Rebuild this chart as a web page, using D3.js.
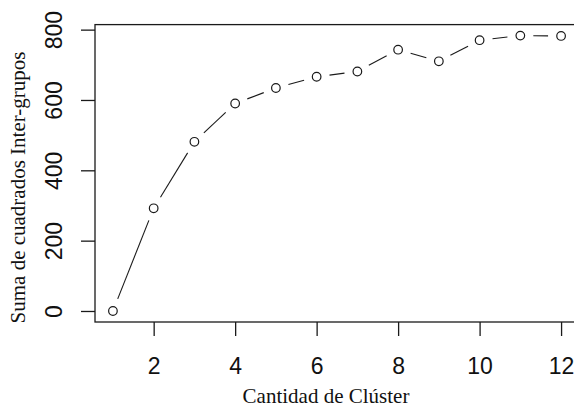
<!DOCTYPE html>
<html>
<head>
<meta charset="utf-8">
<script src="https://cdn.jsdelivr.net/npm/d3@7"></script>
<style>
  html, body { margin: 0; padding: 0; background: #fff; }
  svg { display: block; }
</style>
</head>
<body>
<svg id="chart" width="574" height="408"></svg>
<script>
const clusters = [1, 2, 3, 4, 5, 6, 7, 8, 9, 10, 11, 12];
const betweenSS = [0, 292, 481, 590, 634, 666, 681, 743, 710, 770, 783, 782];
const xTicks = [2, 4, 6, 8, 10, 12];
const yTicks = [0, 200, 400, 600, 800];
const xTitle = "Cantidad de Clúster";
const yTitle = "Suma de cuadrados Inter-grupos";

(function () {
const svg = d3.select("#chart");

// R-style 4% axis extension
const xExt = d3.extent(clusters), xPad = 0.04 * (xExt[1] - xExt[0]);
const yExt = d3.extent(betweenSS), yPad = 0.04 * (yExt[1] - yExt[0]);

const pLeft = 95, pRight = 579, pTop = 24.6, pBottom = 322;
const x = d3.scaleLinear().domain([xExt[0] - xPad, xExt[1] + xPad]).range([pLeft, pRight]);
const y = d3.scaleLinear().domain([yExt[0] - yPad, yExt[1] + yPad]).range([pBottom, pTop]);

const ink = "#1a1a1a";
const tickFont = "'Liberation Sans', Arial, sans-serif";
const tickSize = 23;

// plot box
svg.append("rect")
  .attr("x", pLeft).attr("y", pTop)
  .attr("width", pRight - pLeft).attr("height", pBottom - pTop)
  .attr("fill", "none").attr("stroke", ink).attr("stroke-width", 1.3);

// x axis
const xAxis = svg.append("g").attr("transform", `translate(0,${pBottom})`)
  .call(d3.axisBottom(x).tickValues(xTicks).tickSize(14).tickPadding(22).tickFormat(d3.format("d")));
xAxis.select(".domain").remove();
xAxis.selectAll(".tick line").attr("stroke", ink).attr("stroke-width", 1.3);
xAxis.selectAll(".tick text")
  .attr("font-family", tickFont)
  .attr("font-size", tickSize).attr("fill", "#111");

// y axis
const yAxis = svg.append("g").attr("transform", `translate(${pLeft},0)`)
  .call(d3.axisLeft(y).tickValues(yTicks).tickSize(14).tickFormat(d3.format("d")));
yAxis.select(".domain").remove();
yAxis.selectAll(".tick line").attr("stroke", ink).attr("stroke-width", 1.3);
yAxis.selectAll(".tick text")
  .attr("font-family", tickFont)
  .attr("font-size", tickSize).attr("fill", "#111")
  .attr("text-anchor", "middle").attr("dy", 0)
  .attr("x", null)
  .attr("transform", `translate(${62 - pLeft},0) rotate(-90)`);

// line segments with gaps (type = "b")
const gap = 13;
const pts = clusters.map((c, i) => [x(c), y(betweenSS[i])]);
const segs = [];
for (let i = 0; i < pts.length - 1; i++) {
  const [x0, y0] = pts[i], [x1, y1] = pts[i + 1];
  const dx = x1 - x0, dy = y1 - y0, L = Math.hypot(dx, dy);
  if (L > 2 * gap) {
    const ux = dx / L, uy = dy / L;
    segs.push([x0 + ux * gap, y0 + uy * gap, x1 - ux * gap, y1 - uy * gap]);
  }
}
svg.append("g").selectAll("line").data(segs).join("line")
  .attr("x1", d => d[0]).attr("y1", d => d[1])
  .attr("x2", d => d[2]).attr("y2", d => d[3])
  .attr("stroke", ink).attr("stroke-width", 1.1);

// points
svg.append("g").selectAll("circle").data(clusters).join("circle")
  .attr("cx", d => x(d))
  .attr("cy", (d, i) => y(betweenSS[i]))
  .attr("r", 4.3)
  .attr("fill", "none").attr("stroke", ink).attr("stroke-width", 1.2);

// titles
svg.append("text")
  .attr("x", 326).attr("y", 403)
  .attr("text-anchor", "middle")
  .attr("font-family", "'Liberation Serif', 'Times New Roman', serif")
  .attr("font-size", 21).attr("fill", "#111")
  .text(xTitle);

svg.append("text")
  .attr("transform", "translate(25,187.5) rotate(-90)")
  .attr("text-anchor", "middle")
  .attr("font-family", "'Liberation Serif', 'Times New Roman', serif")
  .attr("font-size", 21).attr("fill", "#111")
  .text(yTitle);
})();
</script>
</body>
</html>
